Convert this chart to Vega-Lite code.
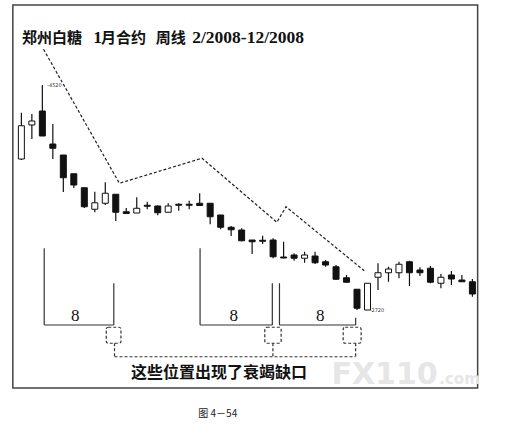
{
  "$schema": "https://vega.github.io/schema/vega-lite/v6.json",
  "width": 507,
  "height": 433,
  "padding": 0,
  "autosize": {"type": "fit", "contains": "padding"},
  "background": "white",
  "config": {"view": {"stroke": null}},
  "datasets": {
    "candles": [
      {"i":0,"o":3928,"h":4298,"l":3920,"c":4194},
      {"i":1,"o":4200,"h":4288,"l":4088,"c":4232},
      {"i":2,"o":4312,"h":4520,"l":4112,"c":4112},
      {"i":3,"o":4048,"h":4208,"l":3928,"c":4014},
      {"i":4,"o":3960,"h":3960,"l":3664,"c":3778},
      {"i":5,"o":3810,"h":3810,"l":3696,"c":3720},
      {"i":6,"o":3698,"h":3698,"l":3536,"c":3546},
      {"i":7,"o":3526,"h":3666,"l":3502,"c":3578},
      {"i":8,"o":3574,"h":3742,"l":3560,"c":3654},
      {"i":9,"o":3646,"h":3646,"l":3432,"c":3502},
      {"i":10,"o":3506,"h":3536,"l":3490,"c":3492},
      {"i":11,"o":3496,"h":3622,"l":3496,"c":3534},
      {"i":12,"o":3558,"h":3586,"l":3526,"c":3550},
      {"i":13,"o":3552,"h":3556,"l":3478,"c":3498},
      {"i":14,"o":3502,"h":3574,"l":3500,"c":3552},
      {"i":15,"o":3566,"h":3574,"l":3514,"c":3558},
      {"i":16,"o":3566,"h":3594,"l":3526,"c":3558},
      {"i":17,"o":3574,"h":3654,"l":3554,"c":3556},
      {"i":18,"o":3574,"h":3574,"l":3406,"c":3466},
      {"i":19,"o":3480,"h":3480,"l":3366,"c":3382},
      {"i":20,"o":3382,"h":3392,"l":3312,"c":3362},
      {"i":21,"o":3360,"h":3374,"l":3270,"c":3274},
      {"i":22,"o":3280,"h":3280,"l":3168,"c":3266},
      {"i":23,"o":3278,"h":3314,"l":3248,"c":3270},
      {"i":24,"o":3280,"h":3294,"l":3134,"c":3146},
      {"i":25,"o":3144,"h":3266,"l":3134,"c":3136},
      {"i":26,"o":3160,"h":3174,"l":3114,"c":3134},
      {"i":27,"o":3134,"h":3186,"l":3098,"c":3160},
      {"i":28,"o":3152,"h":3186,"l":3088,"c":3098},
      {"i":29,"o":3106,"h":3120,"l":3066,"c":3080},
      {"i":30,"o":3066,"h":3080,"l":2960,"c":2966},
      {"i":31,"o":2978,"h":3000,"l":2940,"c":2942},
      {"i":32,"o":2886,"h":2886,"l":2720,"c":2734},
      {"i":33,"o":2720,"h":2934,"l":2720,"c":2934},
      {"i":34,"o":2982,"h":3094,"l":2880,"c":3018},
      {"i":35,"o":3018,"h":3066,"l":2946,"c":3048},
      {"i":36,"o":3018,"h":3106,"l":2974,"c":3086},
      {"i":37,"o":3106,"h":3114,"l":2912,"c":3018},
      {"i":38,"o":3040,"h":3062,"l":2992,"c":3018},
      {"i":39,"o":3054,"h":3072,"l":2934,"c":2942},
      {"i":40,"o":2934,"h":3008,"l":2894,"c":2982},
      {"i":41,"o":3000,"h":3032,"l":2920,"c":2968},
      {"i":42,"o":2960,"h":3000,"l":2946,"c":2946},
      {"i":43,"o":2946,"h":2968,"l":2826,"c":2848}
    ],
    "border": [{"x":-0.813,"x2":43.5,"y":5160,"y2":2096}],
    "trend": [
      {"k":0,"x":2.112,"y":4806},
      {"k":1,"x":9.346,"y":3734},
      {"k":2,"x":17.224,"y":3934},
      {"k":3,"x":24.355,"y":3422},
      {"k":4,"x":25.234,"y":3546},
      {"k":5,"x":32.692,"y":3034}
    ],
    "brackets": [
      {"x":2.178,"y":3214,"x2":2.178,"y2":2600},
      {"x":2.178,"y":2600,"x2":8.813,"y2":2600},
      {"x":8.813,"y":2934,"x2":8.813,"y2":2600},
      {"x":17.037,"y":3214,"x2":17.037,"y2":2600},
      {"x":17.037,"y":2600,"x2":23.925,"y2":2600},
      {"x":23.925,"y":2934,"x2":23.925,"y2":2600},
      {"x":24.607,"y":2934,"x2":24.607,"y2":2600},
      {"x":24.607,"y":2600,"x2":31.869,"y2":2600},
      {"x":31.869,"y":2658,"x2":31.869,"y2":2600}
    ],
    "boxes": [
      {"x":8.093,"x2":9.495,"y":2582,"y2":2454},
      {"x":23.206,"x2":24.766,"y":2582,"y2":2454},
      {"x":30.682,"x2":32.393,"y":2582,"y2":2454}
    ],
    "connectors": [
      {"x":8.879,"y":2454,"x2":8.879,"y2":2346},
      {"x":23.981,"y":2454,"x2":23.981,"y2":2346},
      {"x":31.869,"y":2454,"x2":31.869,"y2":2346},
      {"x":8.879,"y":2346,"x2":31.869,"y2":2346}
    ],
    "watermark": [
      {"x":29.56,"y":2128,"t":"FX110","s":30},
      {"x":39.84,"y":2128,"t":".com","s":15}
    ],
    "titleCJK": [
      {"x":0.056,"y":4893,"t":"郑州白糖"},
      {"x":7.598,"y":4893,"t":"月合约"},
      {"x":12.8,"y":4893,"t":"周线"}
    ],
    "titleNum": [
      {"x":6.85,"y":4893,"t":"1"},
      {"x":16.29,"y":4893,"t":"2/2008-12/2008"}
    ],
    "eights": [
      {"x":5.14,"y":2672,"t":"8"},
      {"x":20.243,"y":2672,"t":"8"},
      {"x":28.505,"y":2672,"t":"8"}
    ],
    "note": [{"x":18.843,"y":2216,"t":"这些位置出现了衰竭缺口"}],
    "caption": [{"x":18.72,"y":1892,"t":"图 4－54"}],
    "tiny": [
      {"x":2.458,"y":4520,"t":"-4520"},
      {"x":33.206,"y":2720,"t":"-2720"}
    ]
  },
  "layer": [
    {
      "data": {"name": "border"},
      "mark": {"type": "rect", "fill": "transparent", "stroke": "#444", "strokeWidth": 1.5},
      "encoding": {
        "x": {"field": "x", "type": "quantitative", "scale": {"domain": [-1.5607, 45.8225], "nice": false, "zero": false}, "axis": null},
        "x2": {"field": "x2"},
        "y": {"field": "y", "type": "quantitative", "scale": {"domain": [1736, 5200], "nice": false, "zero": false}, "axis": null},
        "y2": {"field": "y2"}
      }
    },
    {
      "data": {"name": "watermark"},
      "mark": {"type": "text", "align": "left", "baseline": "alphabetic", "font": "DejaVu Sans", "fontWeight": "bold", "color": "#e6e6e6"},
      "encoding": {
        "x": {"field": "x", "type": "quantitative", "scale": {"domain": [-1.5607, 45.8225], "nice": false, "zero": false}, "axis": null},
        "y": {"field": "y", "type": "quantitative", "scale": {"domain": [1736, 5200], "nice": false, "zero": false}, "axis": null},
        "text": {"field": "t"},
        "size": {"field": "s", "type": "quantitative", "scale": null}
      }
    },
    {
      "data": {"name": "trend"},
      "mark": {"type": "line", "color": "#222", "strokeWidth": 1.2, "strokeDash": [3, 2]},
      "encoding": {
        "x": {"field": "x", "type": "quantitative", "scale": {"domain": [-1.5607, 45.8225], "nice": false, "zero": false}, "axis": null},
        "y": {"field": "y", "type": "quantitative", "scale": {"domain": [1736, 5200], "nice": false, "zero": false}, "axis": null},
        "order": {"field": "k", "type": "quantitative"}
      }
    },
    {
      "data": {"name": "candles"},
      "mark": {"type": "rule", "color": "#111", "strokeWidth": 1.2},
      "encoding": {
        "x": {"field": "i", "type": "quantitative", "scale": {"domain": [-1.5607, 45.8225], "nice": false, "zero": false}, "axis": null},
        "y": {"field": "l", "type": "quantitative", "scale": {"domain": [1736, 5200], "nice": false, "zero": false}, "axis": null},
        "y2": {"field": "h"}
      }
    },
    {
      "data": {"name": "candles"},
      "mark": {"type": "bar", "width": 6, "stroke": "#111", "strokeWidth": 1},
      "encoding": {
        "x": {"field": "i", "type": "quantitative", "scale": {"domain": [-1.5607, 45.8225], "nice": false, "zero": false}, "axis": null},
        "y": {"field": "o", "type": "quantitative", "scale": {"domain": [1736, 5200], "nice": false, "zero": false}, "axis": null},
        "y2": {"field": "c"},
        "fill": {"condition": {"test": "datum.c > datum.o", "value": "white"}, "value": "#111"}
      }
    },
    {
      "data": {"name": "brackets"},
      "mark": {"type": "rule", "color": "#333", "strokeWidth": 1.2},
      "encoding": {
        "x": {"field": "x", "type": "quantitative", "scale": {"domain": [-1.5607, 45.8225], "nice": false, "zero": false}, "axis": null},
        "x2": {"field": "x2"},
        "y": {"field": "y", "type": "quantitative", "scale": {"domain": [1736, 5200], "nice": false, "zero": false}, "axis": null},
        "y2": {"field": "y2"}
      }
    },
    {
      "data": {"name": "boxes"},
      "mark": {"type": "rect", "fill": "transparent", "stroke": "#333", "strokeWidth": 1.2, "strokeDash": [3, 2], "cornerRadius": 2},
      "encoding": {
        "x": {"field": "x", "type": "quantitative", "scale": {"domain": [-1.5607, 45.8225], "nice": false, "zero": false}, "axis": null},
        "x2": {"field": "x2"},
        "y": {"field": "y", "type": "quantitative", "scale": {"domain": [1736, 5200], "nice": false, "zero": false}, "axis": null},
        "y2": {"field": "y2"}
      }
    },
    {
      "data": {"name": "connectors"},
      "mark": {"type": "rule", "color": "#333", "strokeWidth": 1.2, "strokeDash": [3, 2]},
      "encoding": {
        "x": {"field": "x", "type": "quantitative", "scale": {"domain": [-1.5607, 45.8225], "nice": false, "zero": false}, "axis": null},
        "x2": {"field": "x2"},
        "y": {"field": "y", "type": "quantitative", "scale": {"domain": [1736, 5200], "nice": false, "zero": false}, "axis": null},
        "y2": {"field": "y2"}
      }
    },
    {
      "data": {"name": "titleCJK"},
      "mark": {"type": "text", "align": "left", "baseline": "middle", "font": "Noto Sans CJK SC", "fontWeight": "bold", "fontSize": 15, "color": "#111"},
      "encoding": {
        "x": {"field": "x", "type": "quantitative", "scale": {"domain": [-1.5607, 45.8225], "nice": false, "zero": false}, "axis": null},
        "y": {"field": "y", "type": "quantitative", "scale": {"domain": [1736, 5200], "nice": false, "zero": false}, "axis": null},
        "text": {"field": "t"}
      }
    },
    {
      "data": {"name": "titleNum"},
      "mark": {"type": "text", "align": "left", "baseline": "middle", "font": "Liberation Serif", "fontWeight": "bold", "fontSize": 17.5, "color": "#111"},
      "encoding": {
        "x": {"field": "x", "type": "quantitative", "scale": {"domain": [-1.5607, 45.8225], "nice": false, "zero": false}, "axis": null},
        "y": {"field": "y", "type": "quantitative", "scale": {"domain": [1736, 5200], "nice": false, "zero": false}, "axis": null},
        "text": {"field": "t"}
      }
    },
    {
      "data": {"name": "eights"},
      "mark": {"type": "text", "align": "center", "baseline": "middle", "font": "Liberation Serif", "fontSize": 17, "color": "#111"},
      "encoding": {
        "x": {"field": "x", "type": "quantitative", "scale": {"domain": [-1.5607, 45.8225], "nice": false, "zero": false}, "axis": null},
        "y": {"field": "y", "type": "quantitative", "scale": {"domain": [1736, 5200], "nice": false, "zero": false}, "axis": null},
        "text": {"field": "t"}
      }
    },
    {
      "data": {"name": "note"},
      "mark": {"type": "text", "align": "center", "baseline": "middle", "font": "Noto Sans CJK SC", "fontWeight": "bold", "fontSize": 16, "color": "#111"},
      "encoding": {
        "x": {"field": "x", "type": "quantitative", "scale": {"domain": [-1.5607, 45.8225], "nice": false, "zero": false}, "axis": null},
        "y": {"field": "y", "type": "quantitative", "scale": {"domain": [1736, 5200], "nice": false, "zero": false}, "axis": null},
        "text": {"field": "t"}
      }
    },
    {
      "data": {"name": "caption"},
      "mark": {"type": "text", "align": "center", "baseline": "middle", "font": "Noto Sans CJK SC", "fontSize": 10, "color": "#222"},
      "encoding": {
        "x": {"field": "x", "type": "quantitative", "scale": {"domain": [-1.5607, 45.8225], "nice": false, "zero": false}, "axis": null},
        "y": {"field": "y", "type": "quantitative", "scale": {"domain": [1736, 5200], "nice": false, "zero": false}, "axis": null},
        "text": {"field": "t"}
      }
    },
    {
      "data": {"name": "tiny"},
      "mark": {"type": "text", "align": "left", "baseline": "middle", "font": "DejaVu Sans", "fontSize": 5, "color": "#333"},
      "encoding": {
        "x": {"field": "x", "type": "quantitative", "scale": {"domain": [-1.5607, 45.8225], "nice": false, "zero": false}, "axis": null},
        "y": {"field": "y", "type": "quantitative", "scale": {"domain": [1736, 5200], "nice": false, "zero": false}, "axis": null},
        "text": {"field": "t"}
      }
    }
  ]
}
